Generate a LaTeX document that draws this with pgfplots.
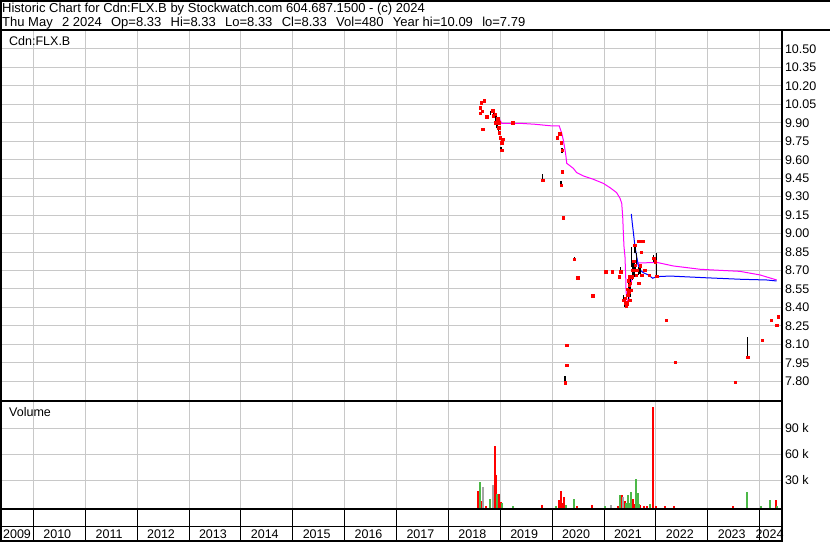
\documentclass[border=0pt]{standalone}
\usepackage{fontspec}
\setmainfont{Liberation Sans}
\usepackage{pgfplots}
\pgfplotsset{compat=1.18}
\definecolor{gridgray}{RGB}{200,200,200}
\definecolor{volgreen}{RGB}{76,184,72}
\definecolor{volgray}{RGB}{165,165,165}
\definecolor{maline}{RGB}{255,0,255}
\definecolor{bline}{RGB}{0,0,255}
\newcommand\lbl{\fontsize{12.5}{14}\selectfont}
\newcommand\hdr{\fontsize{13}{15}\selectfont}
\newcommand\gap{\hspace{9.3pt}}
\pgfplotsset{
  panel/.style={
    scale only axis, anchor=south west, width=780.5pt,
    xmin=2009.3755, xmax=2024.4199,
    xtick={2010,...,2024}, xticklabels={},
    major tick length=0pt, scaled ticks=false,
    axis line style={line width=2pt},
    tick label style={font=\lbl},
    yticklabel pos=right,
    grid=major, grid style={gridgray, line width=1pt},
    /pgf/number format/assume math mode=true,
  }
}
\begin{document}
\begin{tikzpicture}[x=1pt,y=1pt]
\useasboundingbox (0,0) rectangle (830,543);
% header
\draw[line width=2pt] (0,542) -- (830,542);
\draw[line width=2pt] (1,543) -- (1,513);
\draw[line width=2pt] (0,513) -- (830,513);
\node[anchor=base west, inner sep=0] at (2,530.8) {\hdr Historic Chart for Cdn:FLX.B by Stockwatch.com 604.687.1500 - (c) 2024};
\node[anchor=base west, inner sep=0] at (2,516.2) {\hdr Thu May\gap 2 2024\gap Op=8.33\gap Hi=8.33\gap Lo=8.33\gap Cl=8.33\gap Vol=480\gap Year hi=10.09\gap lo=7.79};

% ---------------- price panel ----------------
\begin{axis}[panel, at={(1pt,141.5pt)}, height=371.5pt,
  ymin=7.6359, ymax=10.6538,
  ytick={7.80,7.95,8.10,8.25,8.40,8.55,8.70,8.85,9.00,9.15,9.30,9.45,9.60,9.75,9.90,10.05,10.20,10.35,10.50},
  yticklabels={7.80,7.95,8.10,8.25,8.40,8.55,8.70,8.85,9.00,9.15,9.30,9.45,9.60,9.75,9.90,10.05,10.20,10.35,10.50},
  unbounded coords=jump]
\node[anchor=west, inner sep=0, xshift=8pt, yshift=-11pt] at (rel axis cs:0,1) {\lbl Cdn:FLX.B};
% long moving average (magenta)
\addplot[maline, line width=1pt, mark=none] coordinates {
(2018.975,9.936) (2019.027,9.896) (2019.366,9.896) (2019.669,9.888) (2019.958,9.876)
(2020.137,9.874) (2020.151,9.855) (2020.184,9.815) (2020.214,9.760) (2020.247,9.680)
(2020.266,9.625) (2020.280,9.571) (2020.407,9.530) (2020.472,9.495) (2020.600,9.468)
(2020.792,9.441) (2020.985,9.408) (2021.114,9.373) (2021.243,9.332) (2021.307,9.287)
(2021.340,9.246) (2021.359,9.137) (2021.372,9.002) (2021.384,8.893) (2021.403,8.812)
(2021.417,8.650) (2021.423,8.542) (2021.436,8.474) (2021.455,8.447) (2021.480,8.466)
(2021.499,8.542) (2021.532,8.623) (2021.563,8.690) (2021.596,8.731) (2021.659,8.763)
(2021.821,8.763) (2022.014,8.766) (2022.334,8.737) (2022.849,8.710) (2023.620,8.693)
(2024.005,8.664) (2024.327,8.623)};
% short moving average (blue)
\addplot[bline, line width=1pt, mark=none] coordinates {
(2021.525,9.159) (2021.544,9.083) (2021.563,9.015) (2021.596,8.893) (2021.629,8.812)
(2021.659,8.745) (2021.692,8.704) (2021.756,8.682) (2021.852,8.664) (2021.937,8.637)
(2022.014,8.650) (2022.271,8.655) (2022.913,8.642) (2023.620,8.629) (2024.135,8.623)
(2024.327,8.615)};
% high-low ranges
\addplot[black, line width=1.4pt, mark=none] coordinates {
(2018.815,9.963) (2018.815,9.998) (2018.815,nan)
(2018.880,9.963) (2018.880,10.000) (2018.880,nan)
(2018.917,9.917) (2018.917,9.963) (2018.917,nan)
(2018.931,9.855) (2018.931,9.909) (2018.931,nan)
(2018.950,9.850) (2018.950,9.901) (2018.950,nan)
(2018.962,9.820) (2018.962,9.860) (2018.962,nan)
(2019.013,9.679) (2019.013,9.701) (2019.013,nan)
(2019.046,9.755) (2019.046,9.768) (2019.046,nan)
(2019.817,9.435) (2019.817,9.482) (2019.817,nan)
(2020.160,9.728) (2020.160,9.752) (2020.160,nan)
(2020.189,9.657) (2020.189,9.693) (2020.189,nan)
(2020.170,9.395) (2020.170,9.427) (2020.170,nan)
(2020.280,7.920) (2020.280,7.940) (2020.280,nan)
(2020.247,7.789) (2020.247,7.843) (2020.247,nan)
(2020.426,8.793) (2020.426,8.810) (2020.426,nan)
(2021.322,8.682) (2021.322,8.731) (2021.322,nan)
(2021.372,8.447) (2021.372,8.501) (2021.372,nan)
(2021.405,8.406) (2021.405,8.487) (2021.405,nan)
(2021.424,8.393) (2021.424,8.447) (2021.424,nan)
(2021.468,8.460) (2021.468,8.623) (2021.468,nan)
(2021.501,8.487) (2021.501,8.664) (2021.501,nan)
(2021.534,8.731) (2021.534,8.893) (2021.534,nan)
(2021.553,8.623) (2021.553,8.785) (2021.553,nan)
(2021.578,8.650) (2021.578,8.758) (2021.578,nan)
(2021.597,8.840) (2021.597,8.919) (2021.597,nan)
(2021.610,8.700) (2021.610,8.740) (2021.610,nan)
(2021.630,8.731) (2021.630,8.840) (2021.630,nan)
(2021.661,8.664) (2021.661,8.731) (2021.661,nan)
(2021.690,8.670) (2021.690,8.720) (2021.690,nan)
(2021.950,8.772) (2021.950,8.826) (2021.950,nan)
(2022.015,8.655) (2022.015,8.840) (2022.015,nan)
(2023.769,7.997) (2023.769,8.162) (2023.769,nan)};
% closes
\addplot[only marks, mark=square*, mark size=1.25pt, red, mark options={draw=red, fill=red, line width=0.2pt}] coordinates {
(2018.686,10.080) (2018.628,10.063) (2018.609,10.023) (2018.609,9.977) (2018.648,9.993)
(2018.738,9.950) (2018.660,9.850) (2018.854,9.998) (2018.865,9.958) (2018.898,9.970)
(2018.943,9.936) (2018.898,9.901) (2018.962,9.901) (2018.962,9.860) (2018.975,9.820)
(2018.994,9.779) (2019.027,9.738) (2019.027,9.679) (2019.046,9.768) (2019.239,9.901)
(2019.817,9.435) (2020.093,9.779) (2020.145,9.811) (2020.170,9.741) (2020.189,9.679)
(2020.189,9.503) (2020.170,9.395) (2020.208,9.129) (2020.280,8.095) (2020.280,7.930)
(2020.247,7.789) (2020.426,8.793) (2020.492,8.642) (2020.781,8.495) (2021.033,8.690)
(2021.154,8.690) (2021.289,8.650) (2021.322,8.690) (2021.372,8.460) (2021.405,8.474)
(2021.424,8.412) (2021.410,8.440) (2021.430,8.430) (2021.440,8.550) (2021.450,8.500)
(2021.460,8.620) (2021.468,8.528) (2021.480,8.580) (2021.488,8.460) (2021.490,8.650)
(2021.501,8.596) (2021.515,8.542) (2021.534,8.650) (2021.553,8.704) (2021.565,8.777)
(2021.584,8.907) (2021.597,8.745) (2021.616,8.664) (2021.630,8.704) (2021.661,8.940)
(2021.661,8.596) (2021.694,8.739) (2021.713,8.848) (2021.727,8.664) (2021.738,8.940)
(2021.782,8.704) (2021.867,8.664) (2021.950,8.799) (2021.983,8.772) (2022.015,8.655)
(2022.194,8.298) (2022.368,7.957) (2023.524,7.794) (2023.769,7.997) (2024.044,8.135)
(2024.218,8.298) (2024.328,8.257) (2024.358,8.325)};
\end{axis}

% ---------------- volume panel ----------------
\begin{axis}[panel, at={(1pt,33.5pt)}, height=108pt,
  ymin=-3692, ymax=120923,
  ytick={30000,60000,90000}, yticklabels={30 k,60 k,90 k},
  unbounded coords=jump]
\node[anchor=west, inner sep=0, xshift=8pt, yshift=-11pt] at (rel axis cs:0,1) {\lbl Volume};
\addplot[red, line width=2pt, line cap=butt, mark=none] coordinates {
(2018.576,-6000) (2018.576,17600) (2018.576,nan)
(2018.622,-6000) (2018.622,6100) (2018.622,nan)
(2018.725,-6000) (2018.725,500) (2018.725,nan)
(2018.898,-6000) (2018.898,69600) (2018.898,nan)
(2018.917,-6000) (2018.917,36100) (2018.917,nan)
(2018.950,-6000) (2018.950,14200) (2018.950,nan)
(2018.981,-6000) (2018.981,14200) (2018.981,nan)
(2019.008,-6000) (2019.008,5300) (2019.008,nan)
(2019.798,-6000) (2019.798,1000) (2019.798,nan)
(2020.132,-6000) (2020.132,6900) (2020.132,nan)
(2020.164,-6000) (2020.164,17600) (2020.164,nan)
(2020.184,-6000) (2020.184,3500) (2020.184,nan)
(2020.228,-6000) (2020.228,10700) (2020.228,nan)
(2020.473,-6000) (2020.473,500) (2020.473,nan)
(2020.773,-6000) (2020.773,1000) (2020.773,nan)
(2021.263,-6000) (2021.263,500) (2021.263,nan)
(2021.352,-6000) (2021.352,13000) (2021.352,nan)
(2021.399,-6000) (2021.399,6100) (2021.399,nan)
(2021.468,-6000) (2021.468,9600) (2021.468,nan)
(2021.553,-6000) (2021.553,8400) (2021.553,nan)
(2021.565,-6000) (2021.565,7400) (2021.565,nan)
(2021.584,-6000) (2021.584,3000) (2021.584,nan)
(2021.694,-6000) (2021.694,1000) (2021.694,nan)
(2021.777,-6000) (2021.777,800) (2021.777,nan)
(2021.835,-6000) (2021.835,800) (2021.835,nan)
(2021.939,-6000) (2021.939,114200) (2021.939,nan)
(2022.003,-6000) (2022.003,500) (2022.003,nan)
(2022.170,-6000) (2022.170,500) (2022.170,nan)
(2022.349,-6000) (2022.349,500) (2022.349,nan)
(2023.492,-6000) (2023.492,500) (2023.492,nan)
(2024.314,-6000) (2024.314,7300) (2024.314,nan)};
\addplot[volgreen, line width=2pt, line cap=butt, mark=none] coordinates {
(2018.603,-6000) (2018.603,27700) (2018.603,nan)
(2018.802,-6000) (2018.802,8400) (2018.802,nan)
(2018.931,-6000) (2018.931,14200) (2018.931,nan)
(2019.027,-6000) (2019.027,3500) (2019.027,nan)
(2019.242,-6000) (2019.242,500) (2019.242,nan)
(2020.074,-6000) (2020.074,500) (2020.074,nan)
(2020.267,-6000) (2020.267,2000) (2020.267,nan)
(2020.421,-6000) (2020.421,8400) (2020.421,nan)
(2021.018,-6000) (2021.018,500) (2021.018,nan)
(2021.307,-6000) (2021.307,13000) (2021.307,nan)
(2021.424,-6000) (2021.424,3500) (2021.424,nan)
(2021.457,-6000) (2021.457,13600) (2021.457,nan)
(2021.495,-6000) (2021.495,3500) (2021.495,nan)
(2021.520,-6000) (2021.520,16100) (2021.520,nan)
(2021.611,-6000) (2021.611,31500) (2021.611,nan)
(2021.630,-6000) (2021.630,7400) (2021.630,nan)
(2021.650,-6000) (2021.650,15900) (2021.650,nan)
(2021.675,-6000) (2021.675,3000) (2021.675,nan)
(2021.893,-6000) (2021.893,2500) (2021.893,nan)
(2023.756,-6000) (2023.756,16100) (2023.756,nan)
(2024.019,-6000) (2024.019,600) (2024.019,nan)
(2024.198,-6000) (2024.198,7300) (2024.198,nan)
(2024.339,-6000) (2024.339,500) (2024.339,nan)};
\addplot[volgray, line width=2pt, line cap=butt, mark=none] coordinates {
(2018.661,-6000) (2018.661,21900) (2018.661,nan)
(2018.865,-6000) (2018.865,24600) (2018.865,nan)
(2021.133,-6000) (2021.133,1000) (2021.133,nan)
(2021.372,-6000) (2021.372,11000) (2021.372,nan)};
\end{axis}

% ---------------- date strip ----------------
\begin{axis}[panel, at={(1pt,1.5pt)}, height=32pt,
  ymin=0, ymax=32, ytick={14.8}, yticklabels={},
  grid style={black, line width=1pt}, clip=false]
\node[anchor=base, inner sep=0] at (axis cs:2009.684,2.8) {\lbl 2009};
\node[anchor=base, inner sep=0] at (axis cs:2010.46,2.8) {\lbl 2010};
\node[anchor=base, inner sep=0] at (axis cs:2011.46,2.8) {\lbl 2011};
\node[anchor=base, inner sep=0] at (axis cs:2012.46,2.8) {\lbl 2012};
\node[anchor=base, inner sep=0] at (axis cs:2013.46,2.8) {\lbl 2013};
\node[anchor=base, inner sep=0] at (axis cs:2014.46,2.8) {\lbl 2014};
\node[anchor=base, inner sep=0] at (axis cs:2015.46,2.8) {\lbl 2015};
\node[anchor=base, inner sep=0] at (axis cs:2016.46,2.8) {\lbl 2016};
\node[anchor=base, inner sep=0] at (axis cs:2017.46,2.8) {\lbl 2017};
\node[anchor=base, inner sep=0] at (axis cs:2018.46,2.8) {\lbl 2018};
\node[anchor=base, inner sep=0] at (axis cs:2019.46,2.8) {\lbl 2019};
\node[anchor=base, inner sep=0] at (axis cs:2020.46,2.8) {\lbl 2020};
\node[anchor=base, inner sep=0] at (axis cs:2021.46,2.8) {\lbl 2021};
\node[anchor=base, inner sep=0] at (axis cs:2022.46,2.8) {\lbl 2022};
\node[anchor=base, inner sep=0] at (axis cs:2023.46,2.8) {\lbl 2023};
\node[anchor=base, inner sep=0] at (axis cs:2024.19,2.8) {\lbl 2024};
\end{axis}
\end{tikzpicture}
\end{document}
